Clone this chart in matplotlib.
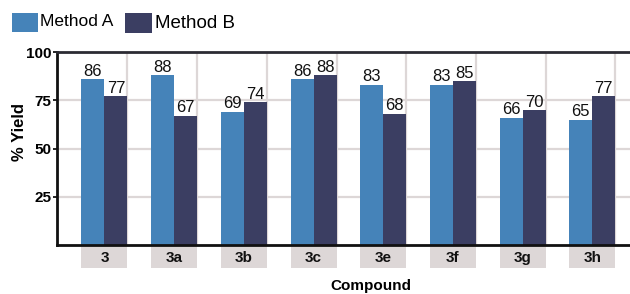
import matplotlib.pyplot as plt
import matplotlib.transforms as mtransforms
from matplotlib.patches import Rectangle
import numpy as np

plt.rcParams['font.family'] = ['Liberation Sans', 'DejaVu Sans']

compounds = ['3', '3a', '3b', '3c', '3e', '3f', '3g', '3h']
method_a = [86, 88, 69, 86, 83, 83, 66, 65]
method_b = [77, 67, 74, 88, 68, 85, 70, 77]

col_a = '#4583b9'
col_b = '#3b3e62'
grid_col = '#ddd7d7'

fig = plt.figure(figsize=(6.3, 2.94), dpi=100)
ax = fig.add_axes([57 / 630, 1 - 245 / 294, 1 - 57 / 630, (245 - 52) / 294])

x = np.arange(len(compounds))
w = 0.33

# grid
for yv in [25, 50, 75]:
    ax.axhline(yv, color=grid_col, lw=1.6, zorder=0)
ax.vlines(x + w, 0, 100, color=grid_col, lw=1.6, zorder=0)

bars_a = ax.bar(x - w / 2, method_a, w, color=col_a, label='Method A', zorder=2)
bars_b = ax.bar(x + w / 2, method_b, w, color=col_b, label='Method B', zorder=2)

for bars, vals in [(bars_a, method_a), (bars_b, method_b)]:
    for b, v in zip(bars, vals):
        ax.text(b.get_x() + b.get_width() / 2, v + 0.2, str(v), ha='center', va='bottom',
                fontsize=12, color='#111111', zorder=3)

ax.set_xlim(-0.681, 7.54)
ax.set_ylim(0, 100)
ax.set_yticks([25, 50, 75, 100])
ax.set_yticklabels(['25', '50', '75', '100'], fontweight='bold', fontsize=11)
ax.tick_params(axis='y', length=3, width=1.2, pad=1)
ax.set_xticks([])

for s in ['left', 'bottom', 'top']:
    ax.spines[s].set_linewidth(2)
    ax.spines[s].set_color('#111111')
ax.spines['top'].set_color('#2b2b33')
ax.spines['right'].set_visible(False)

# tick label boxes
trans = mtransforms.blended_transform_factory(ax.transData, ax.transAxes)
for i, c in enumerate(compounds):
    ax.add_patch(Rectangle((i - w, -0.119), 2 * w, 0.112, transform=trans,
                           facecolor=grid_col, edgecolor='none', clip_on=False))
    ax.text(i, -0.066, c, transform=trans, ha='center', va='center',
            fontweight='bold', fontsize=11, color='#111111')

fig.text(19 / 630, 1 - 132 / 294, '% Yield', ha='center', va='center', rotation=90,
         fontweight='bold', fontsize=12)
fig.text(371 / 630, 1 - 286 / 294, 'Compound', ha='center', va='center',
         fontweight='bold', fontsize=11)

# legend
fig.patches.append(Rectangle((12 / 630, 1 - 32 / 294), 26 / 630, 19 / 294,
                             transform=fig.transFigure, facecolor=col_a, edgecolor='none'))
fig.text(40 / 630, 1 - 22 / 294, 'Method A', ha='left', va='center', fontsize=12.5)
fig.patches.append(Rectangle((125 / 630, 1 - 33 / 294), 27 / 630, 20 / 294,
                             transform=fig.transFigure, facecolor=col_b, edgecolor='none'))
fig.text(155 / 630, 1 - 23 / 294, 'Method B', ha='left', va='center', fontsize=13.5)

fig.savefig('out.png', dpi=100)
